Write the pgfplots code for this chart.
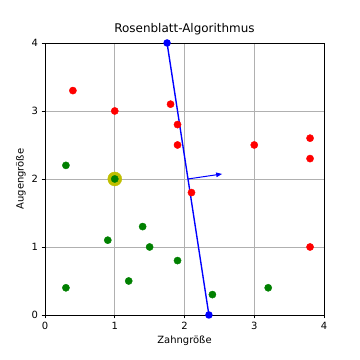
\documentclass[border=0pt]{standalone}
\usepackage{pgfplots}
\pgfplotsset{compat=1.18}
\usetikzlibrary{arrows.meta}
\usepackage{fontspec}
\setmainfont{DejaVu Sans}
\definecolor{mplgreen}{rgb}{0,0.5,0}
\definecolor{mplyellow}{rgb}{0.75,0.75,0}
\definecolor{gridgray}{HTML}{B0B0B0}
\begin{document}
\begin{tikzpicture}
\begin{axis}[
  scale only axis,
  width=279bp, height=272bp,
  xmin=0, xmax=4, ymin=0, ymax=4,
  xtick={0,1,2,3,4}, ytick={0,1,2,3,4},
  grid=major,
  grid style={gridgray, line width=0.8bp},
  axis line style={line width=0.8bp},
  tick style={black, line width=0.8bp},
  tick align=outside,
  major tick length=3.5bp,
  xtick pos=bottom, ytick pos=left,
  /pgf/number format/assume math mode=true,
  tick label style={font=\fontsize{10}{12}\selectfont},
  label style={font=\fontsize{10}{12}\selectfont},
  title style={font=\fontsize{12}{14}\selectfont, yshift=-2bp},
  title={Rosenblatt-Algorithmus},
  xlabel={Zahngröße},
  ylabel={Augengröße},
  ylabel style={yshift=-1bp},
  clip=false,
]
\coordinate (bl) at (rel axis cs:-0.1613,-0.1654);
\coordinate (tr) at (rel axis cs:1.129,1.158);
% highlighted point
\addplot[only marks, mark=*, mark size=7bp, mplyellow, mark options={draw=mplyellow, fill=mplyellow}] coordinates {(1,2)};
% separating line
\addplot[blue, line width=1.4bp, mark=*, mark size=3bp, mark options={fill=blue, draw=blue}] coordinates {(1.75,4) (2.35,0)};
% normal vector
\addplot[blue, line width=1bp, -{Stealth[length=6bp, width=4.5bp, inset=0pt]}] coordinates {(2.05,2.0) (2.54,2.074)};
% red class
\addplot[only marks, mark=*, mark size=3.6bp, red, mark options={draw=red, fill=red}] coordinates {
(0.4,3.3) (1.0,3.0) (1.8,3.1) (1.9,2.8) (1.9,2.5) (3.0,2.5) (3.8,2.6) (3.8,2.3) (2.1,1.8) (3.8,1.0)};
% green class
\addplot[only marks, mark=*, mark size=3.6bp, mplgreen, mark options={draw=mplgreen, fill=mplgreen}] coordinates {
(0.3,2.2) (1.0,2.0) (1.4,1.3) (0.9,1.1) (1.5,1.0) (1.9,0.8) (1.2,0.5) (0.3,0.4) (3.2,0.4) (2.4,0.3)};
\end{axis}
\pgfresetboundingbox
\path (bl) rectangle (tr);
\end{tikzpicture}
\end{document}
